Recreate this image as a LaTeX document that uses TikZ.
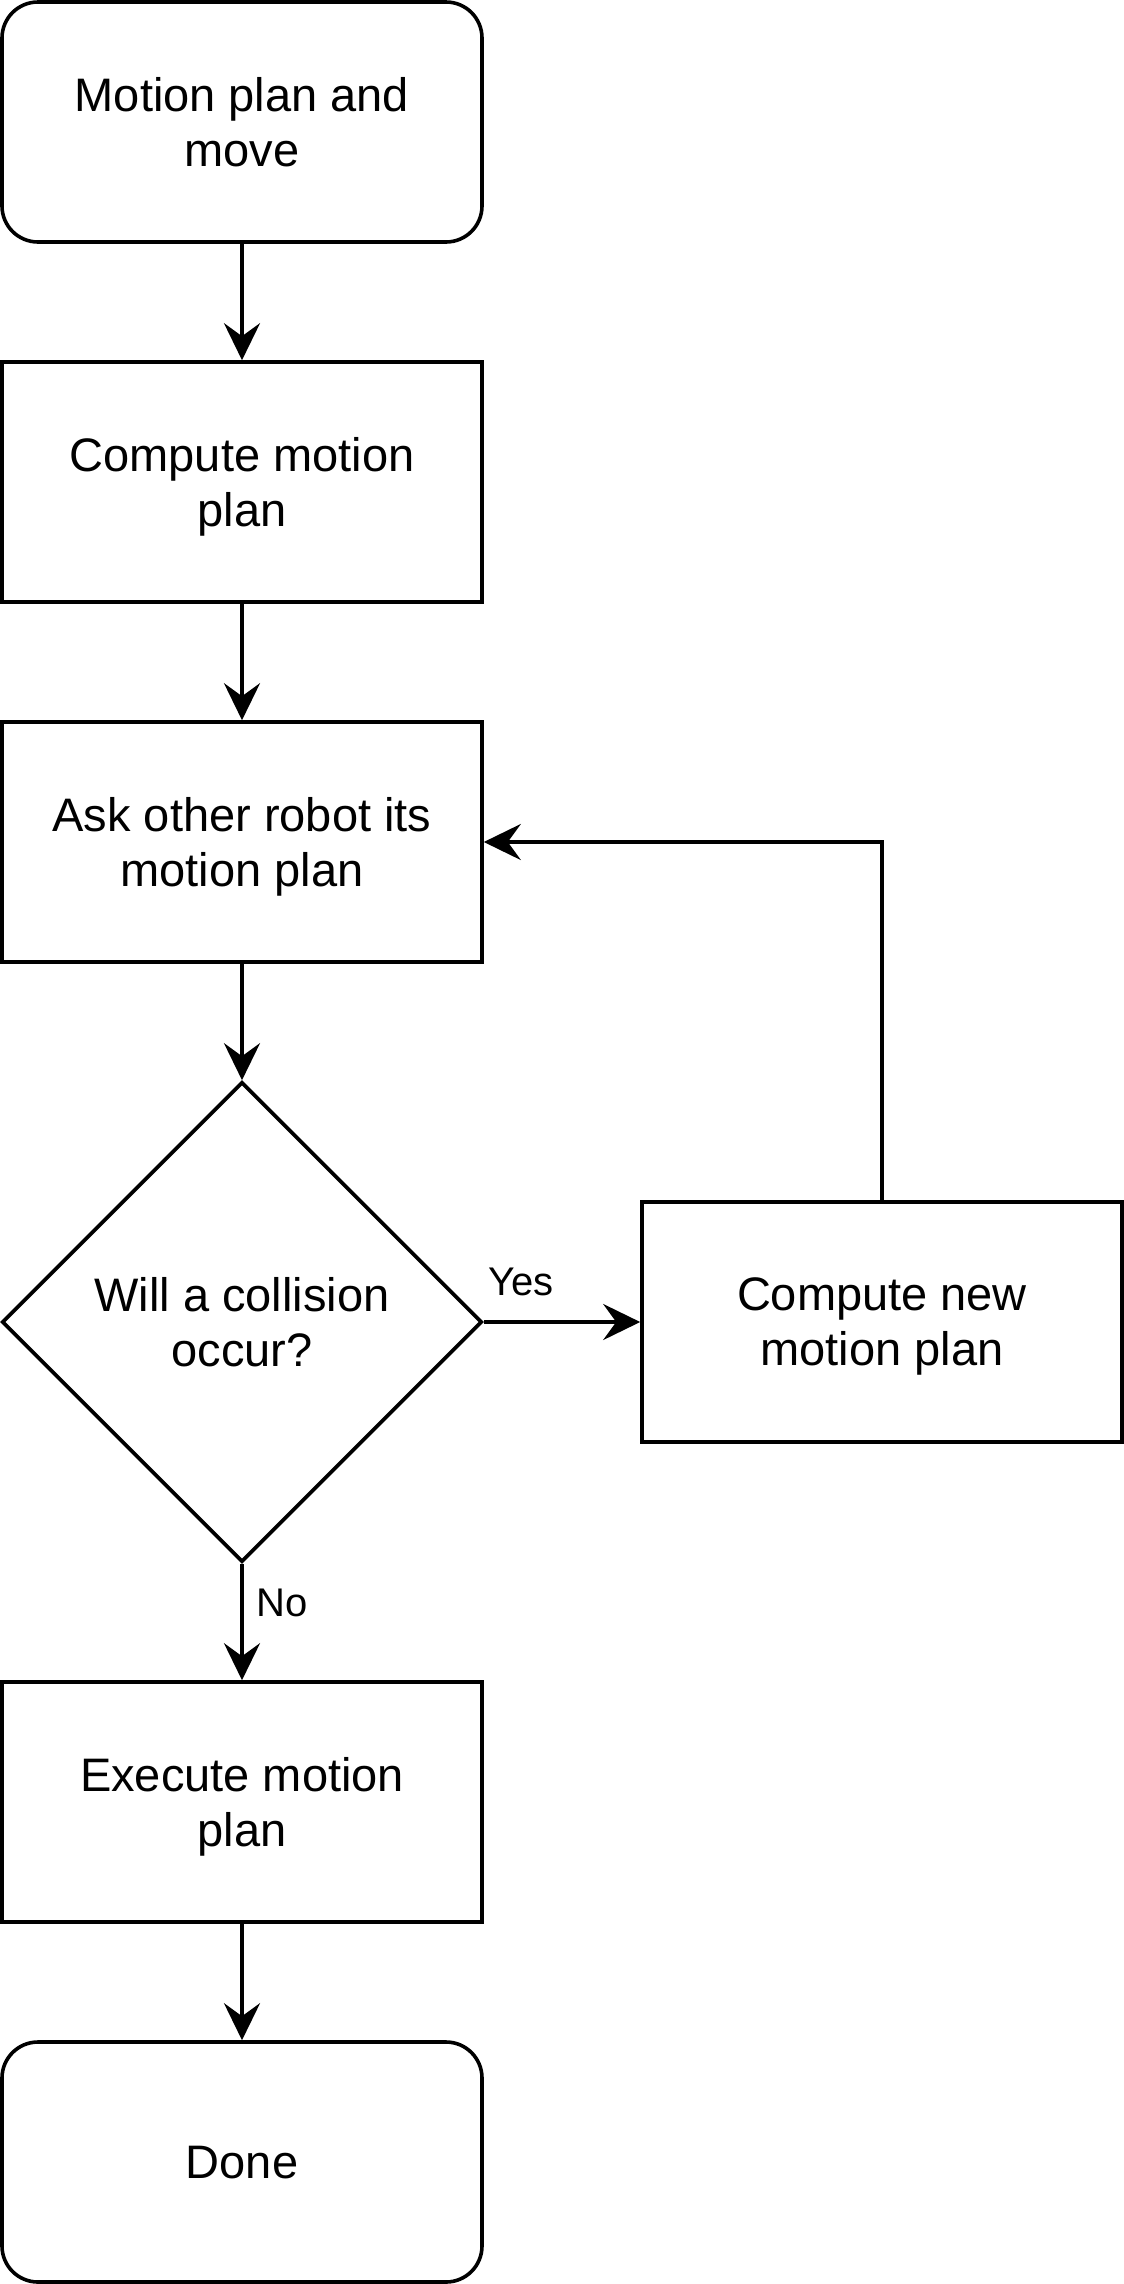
\documentclass[tikz,border=0pt]{standalone}
\usepackage{fontspec}
\setmainfont{Liberation Sans}
\usetikzlibrary{shapes.geometric,arrows.meta}
\tikzset{
  base/.style={draw=black, line width=3.6pt, inner sep=0pt, align=center, text depth=0pt,
    font=\fontsize{47pt}{55pt}\selectfont},
  term/.style={base, rectangle, rounded corners=36pt, minimum width=480pt, minimum height=240pt},
  proc/.style={base, rectangle, minimum width=480pt, minimum height=240pt},
  decis/.style={base, diamond, aspect=1, minimum width=480pt, minimum height=480pt},
  conn/.style={line width=3.6pt, -{Stealth[length=37pt,width=36pt,inset=13pt]}},
  lbl/.style={font=\fontsize{40pt}{46pt}\selectfont, inner sep=0pt, anchor=base}
}
\begin{document}
\begin{tikzpicture}[x=1pt,y=-1pt]
\useasboundingbox (0,0) rectangle (1124,2284);
\node[term] (start) at (242,122) {Motion plan and\\move};
\node[proc] (comp) at (242,482) {Compute motion\\plan};
\node[proc] (ask) at (242,842) {Ask other robot its\\motion plan};
\node[decis] (dec) at (242,1322) {Will a collision\\occur?};
\node[proc] (newp) at (882,1322) {Compute new\\motion plan};
\node[proc] (exec) at (242,1802) {Execute motion\\plan};
\node[term] (done) at (242,2162) {Done};
\draw[conn] (start) -- (comp);
\draw[conn] (comp) -- (ask);
\draw[conn] (ask) -- (dec);
\draw[conn] (dec) -- (newp);
\draw[conn] (newp.north) |- (ask.east);
\draw[conn] (dec) -- (exec);
\draw[conn] (exec) -- (done);
\node[lbl] (yes) at (521,1295) {Yes};
\node[lbl] (no) at (282,1616) {No};
\end{tikzpicture}
\end{document}
